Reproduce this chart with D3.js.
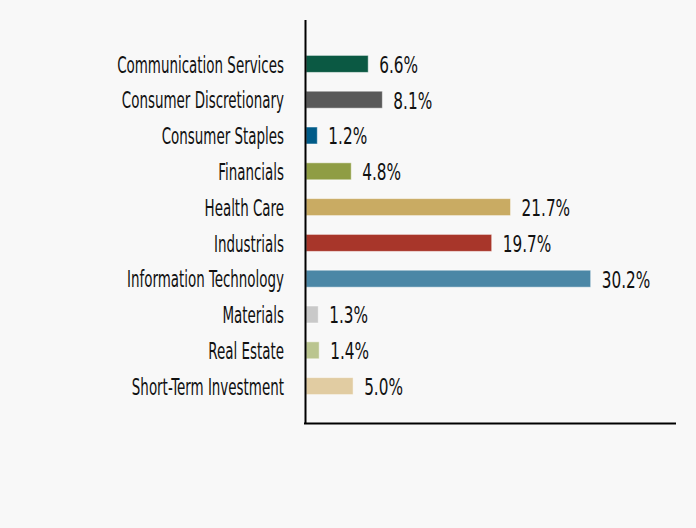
<!DOCTYPE html>
<html><head><meta charset="utf-8">
<script src="https://cdn.jsdelivr.net/npm/d3@7"></script>
<style>html,body{margin:0;padding:0;background:#f8f8f8;}svg{display:block;}</style>
</head><body>
<svg id="c" width="696" height="528"></svg>
<script>
const categories = ["Communication Services","Consumer Discretionary","Consumer Staples","Financials","Health Care","Industrials","Information Technology","Materials","Real Estate","Short-Term Investment"];
const values = [6.6, 8.1, 1.2, 4.8, 21.7, 19.7, 30.2, 1.3, 1.4, 5.0];
const colors = ["#0b5943","#595959","#005b88","#8f9d44","#c9ab63","#a8362a","#4b87a6","#c9c9c9","#bac58f","#e1cca2"];

const svg = d3.select("#c");
const FONT = "'DejaVu Sans Condensed','Liberation Sans Narrow',sans-serif";
const x = d3.scaleLinear().domain([0, 39.25]).range([306, 676]);
const y = d3.scaleBand().domain(categories).range([46, 404]).paddingInner(0.525).paddingOuter(0.2625);

svg.append("rect").attr("width",696).attr("height",528).attr("fill","#f8f8f8");

svg.selectAll("rect.bar").data(values).join("rect").attr("class","bar")
  .attr("x", x(0)).attr("y",(d,i)=>y(categories[i]))
  .attr("width", d=>x(d)-x(0)).attr("height", y.bandwidth())
  .attr("fill",(d,i)=>colors[i]).attr("stroke","rgba(255,255,255,0.5)").attr("stroke-width",1);

svg.append("line").attr("x1",305.5).attr("x2",305.5).attr("y1",20).attr("y2",424).attr("stroke","#000").attr("stroke-width",2);
svg.append("line").attr("x1",304).attr("x2",676).attr("y1",423.5).attr("y2",423.5).attr("stroke","#000").attr("stroke-width",2);

function addText(tx, ty, str, anchor, sx){
  const g = svg.append("g").attr("transform",`translate(${tx},${ty}) scale(${sx},1)`);
  g.append("text").attr("text-anchor",anchor).attr("dominant-baseline","central")
   .attr("font-family",FONT).attr("font-size",23).attr("fill","#111").text(str);
}
categories.forEach((c,i)=>{
  const cy = y(c)+y.bandwidth()/2+1;
  addText(284, cy, c, "end", 0.65);
  addText(x(values[i])+11, cy, values[i].toFixed(1)+"%", "start", 0.74);
});
</script>
</body></html>
